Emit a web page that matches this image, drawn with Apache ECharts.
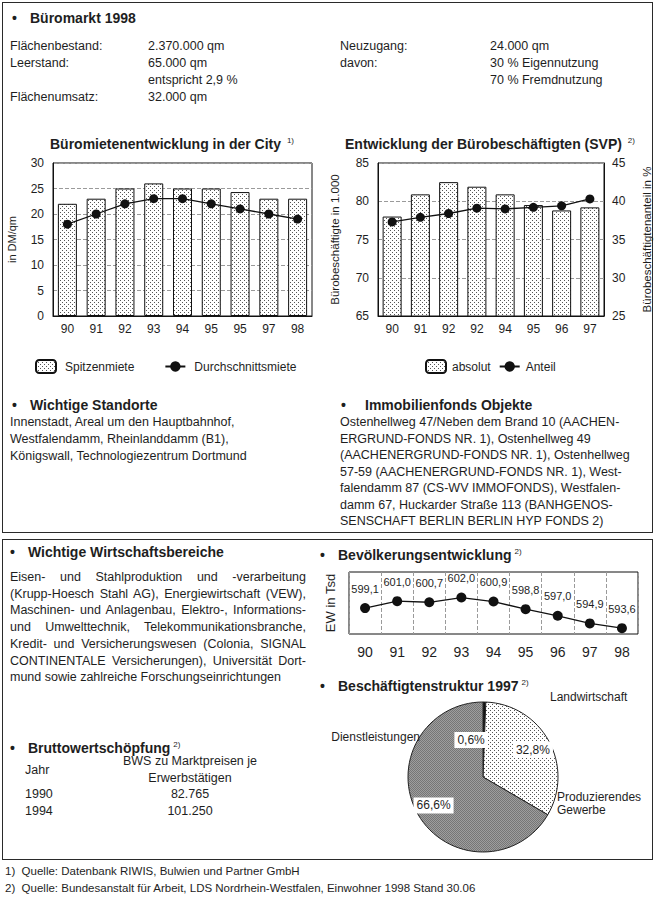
<!DOCTYPE html>
<html><head><meta charset="utf-8">
<script src="https://cdn.jsdelivr.net/npm/echarts@6/dist/echarts.min.js"></script>
<style>
html,body{margin:0;padding:0;background:#fff;}
#page{position:relative;width:657px;height:904px;font-family:"Liberation Sans",Arial,sans-serif;color:#1e1e1e;overflow:hidden;background:#fff}
#chart{position:absolute;left:0;top:0;width:657px;height:904px}
.t{position:absolute;white-space:nowrap;font-size:12.5px;line-height:17px}
.h{position:absolute;white-space:nowrap;font-size:14px;font-weight:bold;line-height:18px}
.h sup,.t sup{font-size:8px;font-weight:normal;vertical-align:6px;margin-left:3px}
.box{position:absolute;border:1.5px solid #2a2a2a;box-sizing:border-box}
.b{display:inline-block;width:18px}
</style></head>
<body>
<div id="page">
<div class="box" style="left:2px;top:2px;width:651px;height:531px"></div>
<div class="box" style="left:2px;top:539px;width:651px;height:321px"></div>
<div id="chart"></div>

<div class="h" style="left:12px;top:9px"><span class="b">•</span>Büromarkt 1998</div>
<div class="t" style="left:10px;top:38px">Flächenbestand:</div>
<div class="t" style="left:148px;top:38px">2.370.000 qm</div>
<div class="t" style="left:10px;top:55px">Leerstand:</div>
<div class="t" style="left:148px;top:55px">65.000 qm</div>
<div class="t" style="left:148px;top:72px">entspricht 2,9 %</div>
<div class="t" style="left:10px;top:89px">Flächenumsatz:</div>
<div class="t" style="left:148px;top:89px">32.000 qm</div>
<div class="t" style="left:340px;top:38px">Neuzugang:</div>
<div class="t" style="left:490px;top:38px">24.000 qm</div>
<div class="t" style="left:340px;top:55px">davon:</div>
<div class="t" style="left:490px;top:55px">30 % Eigennutzung</div>
<div class="t" style="left:490px;top:72px">70 % Fremdnutzung</div>

<div class="h" style="left:12px;top:396px"><span class="b">•</span>Wichtige Standorte</div>
<div class="t" style="left:10px;top:414px">Innenstadt, Areal um den Hauptbahnhof,<br>Westfalendamm, Rheinlanddamm (B1),<br>Königswall, Technologiezentrum Dortmund</div>

<div class="h" style="left:341px;top:396px"><span class="b" style="width:24px">•</span>Immobilienfonds Objekte</div>
<div class="t" style="left:340px;top:414px;line-height:16.5px">Ostenhellweg 47/Neben dem Brand 10 (AACHEN-<br>ERGRUND-FONDS NR. 1), Ostenhellweg 49<br>(AACHENERGRUND-FONDS NR. 1), Ostenhellweg<br>57-59 (AACHENERGRUND-FONDS NR. 1), West-<br>falendamm 87 (CS-WV IMMOFONDS), Westfalen-<br>damm 67, Huckarder Straße 113 (BANHGENOS-<br>SENSCHAFT BERLIN BERLIN HYP FONDS 2)</div>

<div class="h" style="left:10px;top:543px"><span class="b">•</span>Wichtige Wirtschaftsbereiche</div>
<div class="t" style="left:10px;top:569px;width:296px;white-space:normal;text-align:justify;line-height:16.7px">Eisen- und Stahlproduktion und -verarbeitung (Krupp-Hoesch Stahl AG), Energiewirtschaft (VEW), Maschinen- und Anlagenbau, Elektro-, Informations- und Umwelttechnik, Telekommunikationsbranche, Kredit- und Versicherungswesen (Colonia, SIGNAL CONTINENTALE Versicherungen), Universität Dort&shy;mund sowie zahlreiche Forschungseinrichtungen</div>

<div class="h" style="left:320px;top:543px"><span class="b">•</span>Bevölkerungsentwicklung<sup>2)</sup></div>
<div class="h" style="left:320px;top:674px"><span class="b">•</span>Beschäftigtenstruktur 1997<sup>2)</sup></div>

<div class="h" style="left:10px;top:736px"><span class="b">•</span>Bruttowertschöpfung<sup>2)</sup></div>
<div class="t" style="left:110px;top:753px;width:160px;text-align:center;line-height:17px">BWS zu Marktpreisen je<br>Erwerbstätigen</div>
<div class="t" style="left:25px;top:762px">Jahr</div>
<div class="t" style="left:25px;top:786px;line-height:17px">1990<br>1994</div>
<div class="t" style="left:110px;top:786px;width:160px;text-align:center;line-height:17px">82.765<br>101.250</div>

<div class="t" style="left:5px;top:863px;font-size:11.5px">1)&nbsp; Quelle: Datenbank RIWIS, Bulwien und Partner GmbH</div>
<div class="t" style="left:5px;top:880px;font-size:11.5px">2)&nbsp; Quelle: Bundesanstalt für Arbeit, LDS Nordrhein-Westfalen, Einwohner 1998 Stand 30.06</div>
</div>

<script>
// ---------- data ----------
const rentYears = ['90', '91', '92', '93', '94', '95', '95', '97', '98'];
const spitzenmiete = [22, 23, 25, 26, 25, 25, 24.3, 23, 23];
const durchschnittsmiete = [18, 20, 22, 23, 23, 22, 21, 20, 19];

const empYears = ['90', '91', '92', '92', '94', '95', '96', '97'];
const empAbsolut = [78.0, 80.9, 82.5, 81.9, 80.9, 79.5, 78.8, 79.2];
const empAnteil = [37.3, 37.9, 38.4, 39.1, 39.0, 39.2, 39.4, 40.3];

const popYears = ['90', '91', '92', '93', '94', '95', '96', '97', '98'];
const population = [599.1, 601.0, 600.7, 602.0, 600.9, 598.8, 597.0, 594.9, 593.6];

const sectorNames = ['Landwirtschaft', 'Produzierendes Gewerbe', 'Dienstleistungen'];
const sectorShares = [0.6, 32.8, 66.6];

// ---------- styles ----------
function makePattern(size, bg, fg, dots) {
  const c = document.createElement('canvas');
  c.width = size; c.height = size;
  const g = c.getContext('2d');
  g.fillStyle = bg; g.fillRect(0, 0, size, size);
  g.fillStyle = fg;
  dots.forEach(d => g.fillRect(d[0], d[1], 1, 1));
  return { image: c, repeat: 'repeat', imageWidth: size, imageHeight: size };
}
const barFill = makePattern(4, '#ffffff', '#555555', [[0, 0], [2, 2]]);
const lightFill = makePattern(4, '#ffffff', '#555555', [[0, 0], [2, 2]]);
const darkFill = makePattern(2, '#9e9e9e', '#767676', [[0, 0], [1, 1]]);

const FONT = '"Liberation Sans", Arial, sans-serif';
const txt = { color: '#1e1e1e', fontFamily: FONT };
const dash = { color: '#9a9a9a', type: [4, 2], width: 1 };
const comma = v => v.toFixed(1).replace('.', ',');

const labelPos = {
  'Landwirtschaft': { x: 550, y: 697, align: 'left' },
  'Dienstleistungen': { x: 420, y: 737, align: 'right' },
  'Produzierendes Gewerbe': { x: 557, y: 803, align: 'left' }
};

const chart = echarts.init(document.getElementById('chart'), null, { renderer: 'svg' });
chart.setOption({
  animation: false,
  textStyle: { fontFamily: FONT },
  title: [
    { text: 'Büromietenentwicklung in der City {s|1)}', left: 45, top: 131,
      textStyle: { fontSize: 14, fontWeight: 'bold', color: '#1e1e1e', fontFamily: FONT,
        rich: { s: { fontSize: 8, fontWeight: 'normal', verticalAlign: 'top', padding: [0, 0, 8, 2] } } } },
    { text: 'Entwicklung der Bürobeschäftigten (SVP) {s|2)}', left: 340, top: 131,
      textStyle: { fontSize: 14, fontWeight: 'bold', color: '#1e1e1e', fontFamily: FONT,
        rich: { s: { fontSize: 8, fontWeight: 'normal', verticalAlign: 'top', padding: [0, 0, 8, 2] } } } }
  ],
  legend: [
    { data: ['Spitzenmiete', 'Durchschnittsmiete'], left: 30, top: 354, itemWidth: 20, itemHeight: 13,
      itemGap: 30, textStyle: { ...txt, fontSize: 12, padding: [0, 0, 0, 4] } },
    { data: ['absolut', 'Anteil'], left: 420, top: 354, itemWidth: 20, itemHeight: 13,
      itemGap: 8, textStyle: { ...txt, fontSize: 12, padding: [0, 0, 0, 1] } }
  ],
  grid: [
    { left: 53, top: 163, width: 259, height: 153, show: true, borderColor: '#111', borderWidth: 1 },
    { left: 378, top: 163, width: 226, height: 153, show: true, borderColor: '#111', borderWidth: 1 },
    { left: 349, top: 572, width: 289, height: 62, show: true, borderColor: '#111', borderWidth: 1 }
  ],
  xAxis: [
    { type: 'category', gridIndex: 0, data: rentYears, axisTick: { show: false },
      axisLine: { lineStyle: { color: '#111' } }, axisLabel: { ...txt, fontSize: 12, margin: 7 } },
    { type: 'category', gridIndex: 1, data: empYears, axisTick: { show: false },
      axisLine: { lineStyle: { color: '#111' } }, axisLabel: { ...txt, fontSize: 12, margin: 7 } },
    { type: 'category', gridIndex: 2, data: popYears, axisTick: { show: false },
      axisLine: { show: false }, splitLine: { show: true, lineStyle: dash },
      axisLabel: { ...txt, fontSize: 14, margin: 11 } }
  ],
  yAxis: [
    { type: 'value', gridIndex: 0, min: 0, max: 30, interval: 5,
      name: 'in DM/qm', nameLocation: 'middle', nameGap: 36, nameRotate: 90,
      nameTextStyle: { ...txt, fontSize: 11 },
      axisLine: { show: true, lineStyle: { color: '#111' } }, axisTick: { show: false },
      splitLine: { lineStyle: dash }, axisLabel: { ...txt, fontSize: 12, margin: 9 } },
    { type: 'value', gridIndex: 1, min: 65, max: 85, interval: 5,
      name: 'Bürobeschäftigte in 1.000', nameLocation: 'middle', nameGap: 37, nameRotate: 90,
      nameTextStyle: { ...txt, fontSize: 11.5 },
      axisLine: { show: true, lineStyle: { color: '#111' } }, axisTick: { show: false },
      splitLine: { lineStyle: dash }, axisLabel: { ...txt, fontSize: 12, margin: 9 } },
    { type: 'value', gridIndex: 1, position: 'right', min: 25, max: 45, interval: 5,
      name: 'Bürobeschäftigtenanteil in %', nameLocation: 'middle', nameGap: 37, nameRotate: 90,
      nameTextStyle: { ...txt, fontSize: 11.5 },
      axisLine: { show: true, lineStyle: { color: '#111' } }, axisTick: { show: false },
      splitLine: { show: false }, axisLabel: { ...txt, fontSize: 12, margin: 8 } },
    { type: 'value', gridIndex: 2, min: 592, max: 609,
      name: 'EW in Tsd', nameLocation: 'middle', nameGap: 12, nameRotate: 90,
      nameTextStyle: { ...txt, fontSize: 13 },
      axisLine: { show: false }, axisTick: { show: false }, axisLabel: { show: false },
      splitLine: { show: false } }
  ],
  series: [
    { name: 'Spitzenmiete', type: 'bar', xAxisIndex: 0, yAxisIndex: 0, data: spitzenmiete, barWidth: 19,
      itemStyle: { color: barFill, borderColor: '#111', borderWidth: 1 } },
    { name: 'Durchschnittsmiete', type: 'line', xAxisIndex: 0, yAxisIndex: 0, data: durchschnittsmiete,
      symbol: 'circle', symbolSize: 9, lineStyle: { color: '#111', width: 1.3 }, itemStyle: { color: '#111' } },
    { name: 'absolut', type: 'bar', xAxisIndex: 1, yAxisIndex: 1, data: empAbsolut, barWidth: 19,
      itemStyle: { color: barFill, borderColor: '#111', borderWidth: 1 } },
    { name: 'Anteil', type: 'line', xAxisIndex: 1, yAxisIndex: 2, data: empAnteil,
      symbol: 'circle', symbolSize: 9, lineStyle: { color: '#111', width: 1.3 }, itemStyle: { color: '#111' } },
    { name: 'Bevölkerung', type: 'line', xAxisIndex: 2, yAxisIndex: 3, data: population,
      symbol: 'circle', symbolSize: 10, lineStyle: { color: '#111', width: 1.3 }, itemStyle: { color: '#111' },
      label: { show: true, position: 'top', distance: 9, formatter: p => comma(p.value), ...txt, fontSize: 11 } },
    { name: 'Beschäftigtenstruktur', type: 'pie', center: [483, 777], radius: [0, 75],
      startAngle: 90, clockwise: true, silent: true,
      data: sectorNames.map((n, i) => ({ name: n, value: sectorShares[i] })),
      itemStyle: { borderColor: '#222', borderWidth: 1 },
      color: ['#111', lightFill, darkFill],
      label: { show: true, position: 'outside', ...txt, fontSize: 12, lineHeight: 13, overflow: 'none',
        formatter: p => p.name.replace(' ', '\n') },
      labelLine: { show: false },
      labelLayout: p => {
        const lp = labelPos[sectorNames[p.dataIndex]];
        return { x: lp.x, y: lp.y, align: lp.align, verticalAlign: 'middle', width: 120 };
      } },
    { name: 'Anteile', type: 'pie', center: [483, 777], radius: [33, 75],
      startAngle: 90, clockwise: true, silent: true,
      data: sectorNames.map((n, i) => ({ name: n, value: sectorShares[i] })),
      itemStyle: { color: 'rgba(0,0,0,0)' },
      label: { show: true, position: 'inside', ...txt, fontSize: 12, backgroundColor: '#fff',
        padding: [2, 3], formatter: p => comma(p.value) + '%' },
      labelLine: { show: false },
      labelLayout: p => p.dataIndex === 0 ? { dx: -13, dy: 20 } : {} }
  ]
});
</script>
</body></html>
